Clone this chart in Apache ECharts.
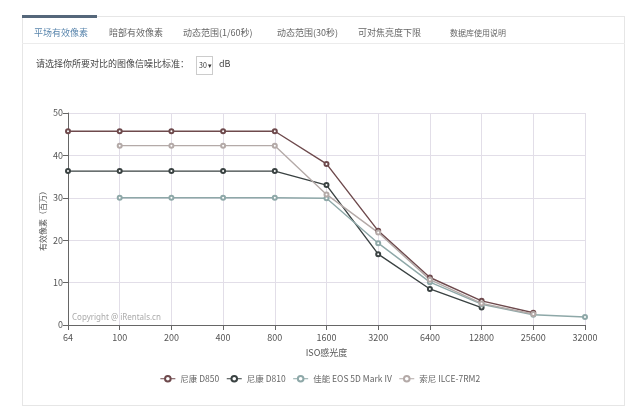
<!DOCTYPE html>
<html>
<head>
<meta charset="utf-8">
<script src="https://cdn.jsdelivr.net/npm/echarts@6/dist/echarts.min.js"></script>
<style>
html,body{margin:0;padding:0;background:#fff;width:640px;height:413px;overflow:hidden;font-family:"Noto Sans CJK SC","Noto Sans",sans-serif;}
#chart{position:absolute;left:0;top:0;width:640px;height:413px;}
#panel{position:absolute;left:22px;top:16px;width:603px;height:390px;border:1px solid #e6e6e6;box-sizing:border-box;pointer-events:none;}
#tabline{position:absolute;left:22px;top:43px;width:603px;height:1px;background:#ececec;}
#active{position:absolute;left:22px;top:15px;width:75px;height:3px;background:#55677a;}
.tab{position:absolute;top:27px;font-size:9px;color:#666;white-space:nowrap;line-height:12px;}
.lbl{position:absolute;font-size:9px;color:#444;white-space:nowrap;line-height:12px;}
#sel{position:absolute;left:196px;top:56px;width:17px;height:19px;border:1px solid #ccc;box-sizing:border-box;font-size:7px;color:#333;line-height:17px;padding-left:2px;white-space:nowrap;overflow:hidden;}
</style>
</head>
<body>
<div id="chart"></div>
<div id="panel"></div>
<div id="tabline"></div>
<div id="active"></div>
<div class="tab" style="left:34px;color:#5a86ad;">平场有效像素</div>
<div class="tab" style="left:109px;">暗部有效像素</div>
<div class="tab" style="left:183px;">动态范围(1/60秒)</div>
<div class="tab" style="left:277px;">动态范围(30秒)</div>
<div class="tab" style="left:358px;">可对焦亮度下限</div>
<div class="tab" style="left:450px;font-size:8px;">数据库使用说明</div>
<div class="lbl" style="left:36px;top:58px;">请选择你所要对比的图像信噪比标准：</div>
<div id="sel">30 ▾</div>
<div class="lbl" style="left:219px;top:58px;">dB</div>
<script>
var categories = ['64','100','200','400','800','1600','3200','6400','12800','25600','32000'];
var seriesNames = ['尼康 D850','尼康 D810','佳能 EOS 5D Mark IV','索尼 ILCE-7RM2'];
var d850  = [45.7,45.7,45.7,45.7,45.7,38.0,22.2,11.2,5.7,2.9,null];
var d810  = [36.3,36.3,36.3,36.3,36.3,33.0,16.7,8.5,4.1,null,null];
var canon = [null,30.0,30.0,30.0,30.0,29.9,19.3,10.1,4.9,2.4,1.9];
var sony  = [null,42.3,42.3,42.3,42.3,30.8,21.8,10.7,5.1,2.6,null];
var yTicks = {min:0, max:50, interval:10};
var colors = ['#6e4a4d','#3a4242','#8ea8a8','#b4aaa8'];

var chart = echarts.init(document.getElementById('chart'));
function mk(name, data, color){
  return {name:name, type:'line', data:data, symbol:'emptyCircle', symbolSize:4,
    lineStyle:{width:1.4,color:color}, itemStyle:{color:color,borderWidth:1}, connectNulls:false};
}
chart.setOption({
  animation:false,
  color:colors,
  grid:{left:68,right:55,top:113,bottom:88},
  xAxis:{type:'category',data:categories,boundaryGap:false,
    name:'ISO感光度',nameLocation:'middle',nameGap:23,nameMoveOverlap:false,
    nameTextStyle:{fontSize:9,color:'#555',fontFamily:'Noto Sans CJK SC'},
    axisLine:{lineStyle:{color:'#666'}},axisTick:{show:true,lineStyle:{color:'#666'}},
    axisLabel:{fontSize:9,color:'#555',margin:8,fontFamily:'Noto Sans CJK SC'},
    splitLine:{show:true,lineStyle:{color:'#e2dee8'}}},
  yAxis:{type:'value',min:yTicks.min,max:yTicks.max,interval:yTicks.interval,
    name:'有效像素（百万）',nameLocation:'middle',nameGap:21,nameRotate:90,nameMoveOverlap:false,
    nameTextStyle:{fontSize:8,color:'#555',fontFamily:'Noto Sans CJK SC'},
    axisLine:{show:true,lineStyle:{color:'#666'}},axisTick:{show:true,lineStyle:{color:'#666'}},
    axisLabel:{fontSize:9,color:'#555',margin:5,fontFamily:'Noto Sans CJK SC'},
    splitLine:{show:true,lineStyle:{color:'#e2dee8'}}},
  legend:{bottom:25,left:'center',itemGap:7,itemWidth:15,itemHeight:7,
    lineStyle:{width:1},
    textStyle:{fontSize:8.5,color:'#666',fontFamily:'Noto Sans CJK SC'},
    data:seriesNames},
  graphic:[{type:'text',left:72,top:314,style:{text:'Copyright @ iRentals.cn',fontSize:8,fill:'#aaa',fontFamily:'Noto Sans'}}],
  series:[mk(seriesNames[0],d850,colors[0]),mk(seriesNames[1],d810,colors[1]),
          mk(seriesNames[2],canon,colors[2]),mk(seriesNames[3],sony,colors[3])]
});
</script>
</body>
</html>
